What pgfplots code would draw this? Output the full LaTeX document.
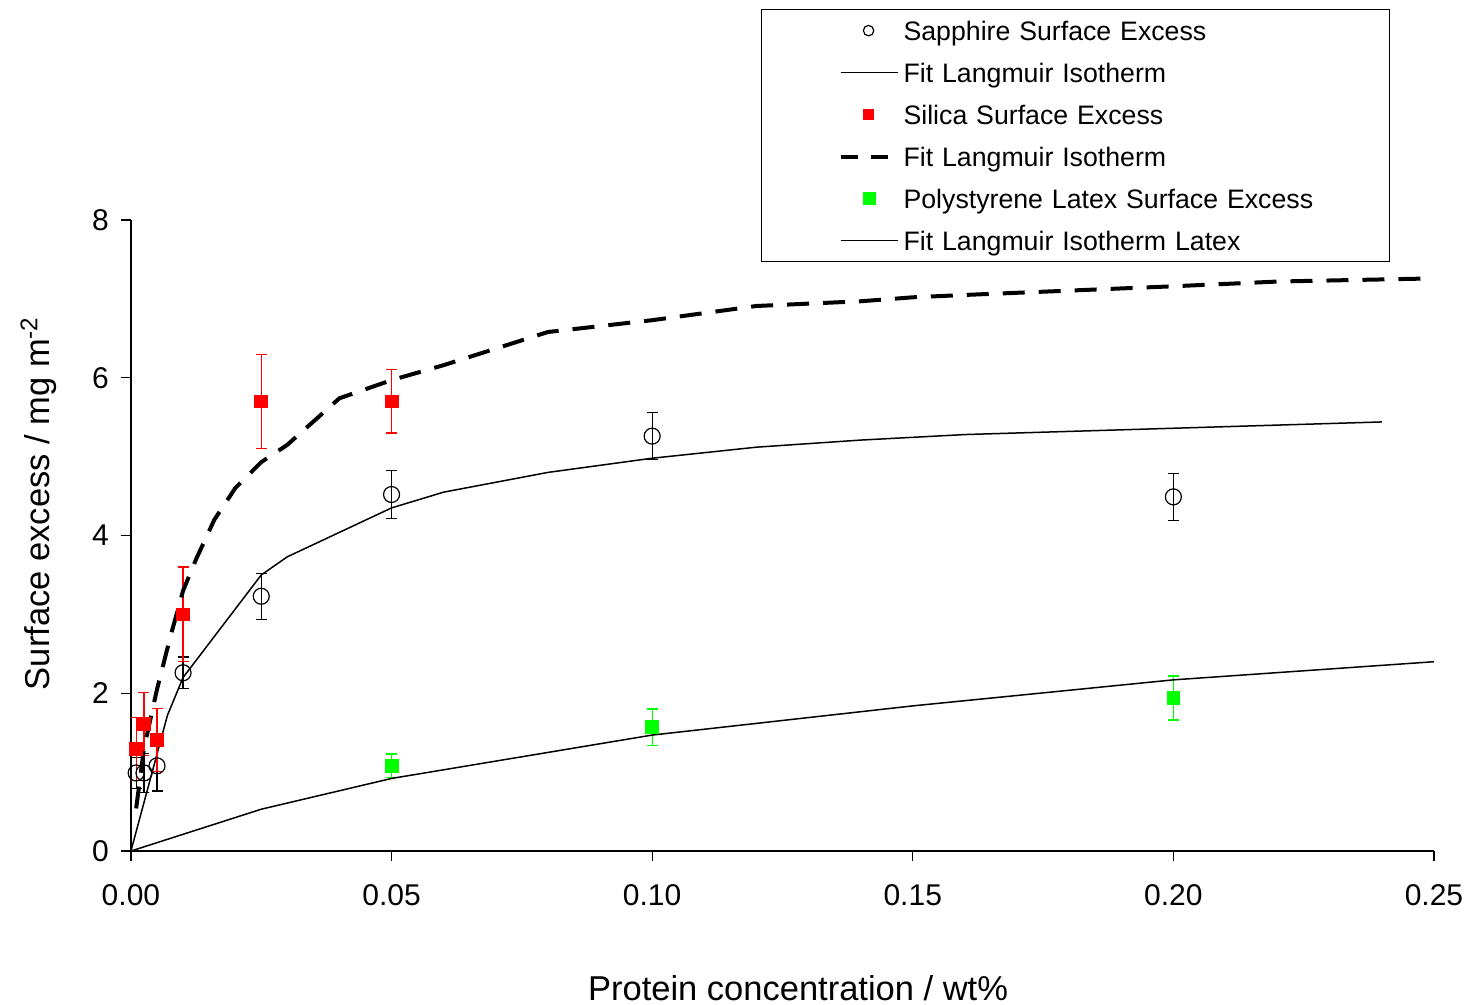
\documentclass[border=0pt]{standalone}
\usepackage{fontspec}
\setmainfont{Liberation Sans}
\usepackage{pgfplots}
\usepackage{pgfplotstable}
\pgfplotsset{compat=1.18}
\definecolor{silred}{RGB}{255,0,0}
\definecolor{latgreen}{RGB}{0,255,0}

\pgfplotsset{
  legline/.style={legend image code/.code={\path (0pt,0pt); \draw[black, line width=0.75pt] (38.5pt,0pt) -- (67pt,0pt);}},
  legdash/.style={legend image code/.code={\path (0pt,0pt); \draw[black, line width=2pt, dash pattern=on 8.5pt off 6.5pt] (38.5pt,0pt) -- (67pt,0pt);}},
  legcirc/.style={legend image code/.code={\path (0pt,0pt); \draw[black, line width=0.6pt] (52.5pt,0pt) circle (2.6pt);}},
  legred/.style={legend image code/.code={\path (0pt,0pt); \fill[silred] (50pt,-2.5pt) rectangle (55pt,2.5pt);}},
  leggreen/.style={legend image code/.code={\path (0pt,0pt); \fill[latgreen] (50pt,-3pt) rectangle (56pt,3pt);}},
}

\pgfplotstableread{
x y e
0.001 0.99 0.20
0.0025 0.99 0.25
0.005 1.08 0.32
0.01 2.26 0.20
0.025 3.23 0.29
0.05 4.52 0.30
0.1 5.26 0.30
0.2 4.49 0.30
}\sapphire

\pgfplotstableread{
x y e
0.001 1.29 0.40
0.0025 1.61 0.40
0.005 1.41 0.40
0.01 3.00 0.60
0.025 5.70 0.60
0.05 5.70 0.40
}\silica

\pgfplotstableread{
x y e
0.05 1.08 0.15
0.1 1.57 0.23
0.2 1.94 0.28
}\latexdata

\pgfplotstableread{
x y
0 0
0.007 1.72
0.01 2.20
0.025 3.50
0.03 3.73
0.05 4.35
0.06 4.55
0.08 4.80
0.1 4.98
0.12 5.12
0.14 5.21
0.16 5.28
0.2 5.36
0.24 5.44
}\sapphirefit

\pgfplotstableread{
x y
0.001 0.54
0.0025 1.30
0.005 2.05
0.0075 2.70
0.01 3.30
0.0125 3.70
0.016 4.20
0.02 4.60
0.025 4.93
0.03 5.15
0.04 5.74
0.05 5.97
0.06 6.16
0.08 6.58
0.1 6.73
0.12 6.91
0.14 6.97
0.15 7.02
0.16 7.05
0.2 7.16
0.22 7.22
0.25 7.26
}\silicafit

\pgfplotstableread{
x y
0 0
0.025 0.53
0.05 0.92
0.1 1.47
0.15 1.84
0.2 2.17
0.25 2.40
}\latexfit

\begin{document}
\begin{tikzpicture}
\begin{axis}[
  scale only axis, width=651.5pt, height=315.5pt,
  xmin=0, xmax=0.25, ymin=0, ymax=8,
  clip=false,
  axis x line*=bottom, axis y line*=left,
  axis line style={line width=0.6pt, black},
  xtick={0,0.05,0.1,0.15,0.2,0.25},
  ytick={0,2,4,6,8},
  scaled x ticks=false,
  tick align=outside, major tick length=5pt,
  tick style={black, line width=0.6pt},
  /pgf/number format/assume math mode=true,
  xticklabel style={/pgf/number format/.cd, fixed, fixed zerofill, precision=2, /tikz/.cd, yshift=-8pt},
  yticklabel style={xshift=-2.5pt},
  tick label style={font=\fontsize{15}{18}\selectfont},
  xlabel={Protein concentration / wt\%},
  ylabel={Surface excess / mg m\textsuperscript{-2}},
  label style={font=\fontsize{17.25}{20}\selectfont},
  xlabel style={at={(rel axis cs:0.512,0)}, anchor=base, yshift=-74.5pt},
  ylabel style={at={([xshift=-40.5pt]rel axis cs:0,0.551)}, anchor=base},
  legend style={at={(rel axis cs:0.4835,1.3344)}, anchor=north west,
    inner sep=0pt, draw=black, line width=0.6pt, fill=white,
    font=\fontsize{13.35}{16}\selectfont,
    cells={anchor=west},
    nodes={inner xsep=2pt, inner ysep=2pt, text height=13.4pt, text depth=3.6pt, text width=241pt},
    row sep=0pt, column sep=0pt},
  error bars/error bar style={line width=0.6pt},
  error bars/error mark options={rotate=90, mark size=2.75pt, line width=0.6pt},
]
\coordinate (bl) at (rel axis cs:-0.1005,-0.2425);
\coordinate (tr) at (rel axis cs:1.0361,1.3487);

\addplot[black, only marks, mark=o, mark size=4pt, mark options={line width=0.6pt},
  legcirc, error bars/.cd, y dir=both, y explicit]
  table[x=x, y=y, y error=e] {\sapphire};
\addlegendentry{Sapphire Surface Excess}

\addplot[black, line width=0.75pt, legline]
  table[x=x, y=y] {\sapphirefit};
\addlegendentry{Fit Langmuir Isotherm}

\addplot[silred, only marks, mark=square*, mark size=3.2pt,
  legred, error bars/.cd, y dir=both, y explicit]
  table[x=x, y=y, y error=e] {\silica};
\addlegendentry{Silica Surface Excess}

\addplot[black, line width=2pt, dash pattern=on 11pt off 7pt, legdash]
  table[x=x, y=y] {\silicafit};
\addlegendentry{Fit Langmuir Isotherm}

\addplot[latgreen, only marks, mark=square*, mark size=3.2pt,
  leggreen, error bars/.cd, y dir=both, y explicit]
  table[x=x, y=y, y error=e] {\latexdata};
\addlegendentry{Polystyrene Latex Surface Excess}

\addplot[black, line width=0.75pt, legline]
  table[x=x, y=y] {\latexfit};
\addlegendentry{Fit Langmuir Isotherm Latex}
\end{axis}
\pgfresetboundingbox
\path (bl) rectangle (tr);
\end{tikzpicture}
\end{document}
